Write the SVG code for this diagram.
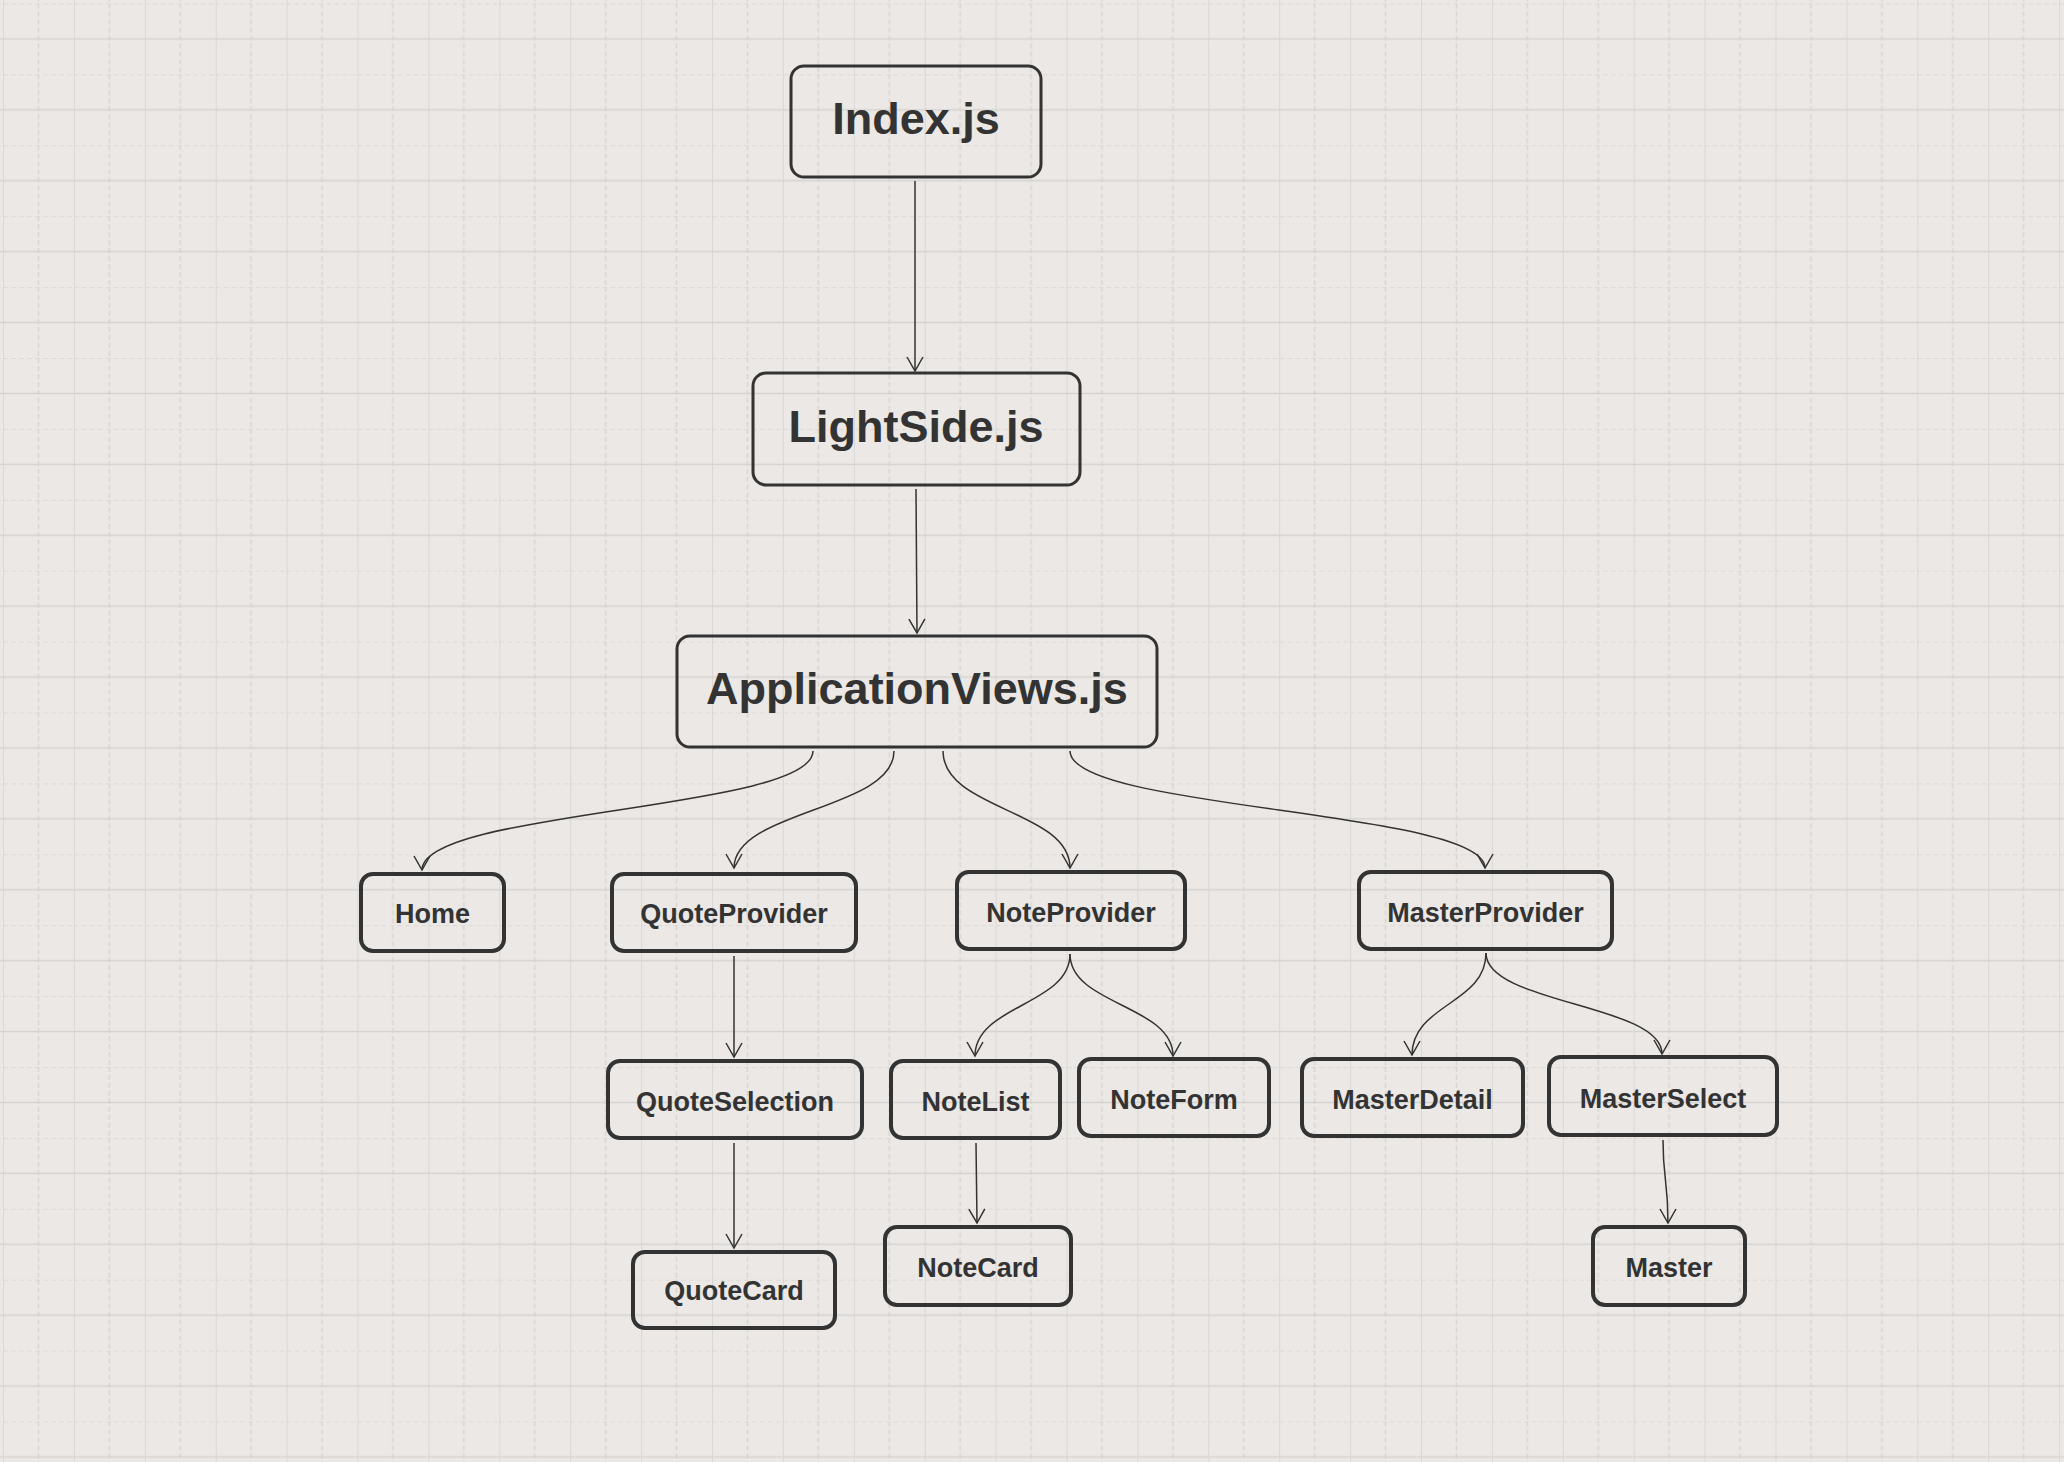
<svg xmlns="http://www.w3.org/2000/svg" width="2064" height="1462" viewBox="0 0 2064 1462">
<style>
.box{fill:none;stroke:#333;stroke-width:4}
.big{stroke-width:3}
.t{font-family:"Liberation Sans",Arial,sans-serif;font-weight:bold;fill:#333;text-anchor:middle;font-size:27px}
.tb{font-size:45px}
.c{fill:none;stroke:#333;stroke-width:1.5}
</style>
<defs>
<pattern id="grid" patternUnits="userSpaceOnUse" x="3" y="3.5" width="70.9" height="70.9">
<line x1="0" y1="0" x2="70.9" y2="0" stroke="#d8d5d2" stroke-width="1.5" stroke-dasharray="5 3"/>
<line x1="35.45" y1="0" x2="35.45" y2="70.9" stroke="#d8d5d2" stroke-width="1.5" stroke-dasharray="5 3"/>
<line x1="0" y1="35.5" x2="70.9" y2="35.5" stroke="#d5d3d1" stroke-width="1.5"/>
<line x1="0" y1="0" x2="0" y2="70.9" stroke="#d5d3d1" stroke-width="1.5"/>
</pattern>
<marker id="arr" markerUnits="userSpaceOnUse" markerWidth="20" markerHeight="20" refX="0" refY="0" orient="auto" overflow="visible">
<path d="M-14,-8 L0,0 L-14,8" fill="none" stroke="#333" stroke-width="1.5"/>
</marker>
</defs>
<rect width="2064" height="1462" fill="#ebe8e5"/>
<rect width="2064" height="1462" fill="url(#grid)"/>

<g id="connectors">
<path class="c" marker-end="url(#arr)" d="M915,181 L915,371"/>
<path class="c" marker-end="url(#arr)" d="M916,489 L917,633"/>
<path class="c" marker-end="url(#arr)" d="M813,751 C813,810 422,810 422,870"/>
<path class="c" marker-end="url(#arr)" d="M894,751 C894,810 734,810 734,868"/>
<path class="c" marker-end="url(#arr)" d="M943,751 C943,810 1070,810 1070,868"/>
<path class="c" marker-end="url(#arr)" d="M1070,751 C1070,810 1485,810 1485,868"/>
<path class="c" marker-end="url(#arr)" d="M734,956 L734,1057"/>
<path class="c" marker-end="url(#arr)" d="M734,1143 L734,1248"/>
<path class="c" marker-end="url(#arr)" d="M1070,954 C1070,1005 975,1005 975,1056"/>
<path class="c" marker-end="url(#arr)" d="M1070,954 C1070,1005 1173,1005 1173,1056"/>
<path class="c" marker-end="url(#arr)" d="M976,1143 L977,1223"/>
<path class="c" marker-end="url(#arr)" d="M1486,953 C1486,1004 1412,1004 1412,1055"/>
<path class="c" marker-end="url(#arr)" d="M1486,953 C1486,1004 1662,1004 1662,1054"/>
<path class="c" marker-end="url(#arr)" d="M1663,1140 C1663,1180 1668,1180 1668,1223"/>
</g>

<g id="index"><rect class="box big" x="791" y="66" width="250" height="111" rx="13"/><text class="t tb" x="916" y="134">Index.js</text></g>
<g id="lightside"><rect class="box big" x="753" y="373" width="327" height="112" rx="13"/><text class="t tb" x="916" y="442">LightSide.js</text></g>
<g id="appviews"><rect class="box big" x="677" y="636" width="480" height="111" rx="13"/><text class="t tb" x="917" y="704">ApplicationViews.js</text></g>

<g id="home"><rect class="box" x="361" y="874" width="143" height="77" rx="12"/><text class="t" x="432.5" y="923">Home</text></g>
<g id="quoteprovider"><rect class="box" x="612" y="874" width="244" height="77" rx="12"/><text class="t" x="734" y="923">QuoteProvider</text></g>
<g id="noteprovider"><rect class="box" x="957" y="872" width="228" height="77" rx="12"/><text class="t" x="1071" y="922">NoteProvider</text></g>
<g id="masterprovider"><rect class="box" x="1359" y="872" width="253" height="77" rx="12"/><text class="t" x="1485.5" y="922">MasterProvider</text></g>

<g id="quoteselection"><rect class="box" x="608" y="1061" width="254" height="77" rx="12"/><text class="t" x="735" y="1111">QuoteSelection</text></g>
<g id="notelist"><rect class="box" x="891" y="1061" width="169" height="77" rx="12"/><text class="t" x="975.5" y="1111">NoteList</text></g>
<g id="noteform"><rect class="box" x="1079" y="1059" width="190" height="77" rx="12"/><text class="t" x="1174" y="1109">NoteForm</text></g>
<g id="masterdetail"><rect class="box" x="1302" y="1059" width="221" height="77" rx="12"/><text class="t" x="1412.5" y="1109">MasterDetail</text></g>
<g id="masterselect"><rect class="box" x="1549" y="1057" width="228" height="78" rx="12"/><text class="t" x="1663" y="1108">MasterSelect</text></g>

<g id="quotecard"><rect class="box" x="633" y="1252" width="202" height="76" rx="12"/><text class="t" x="734" y="1300">QuoteCard</text></g>
<g id="notecard"><rect class="box" x="885" y="1227" width="186" height="78" rx="12"/><text class="t" x="978" y="1277">NoteCard</text></g>
<g id="master"><rect class="box" x="1593" y="1227" width="152" height="78" rx="12"/><text class="t" x="1669" y="1277">Master</text></g>
</svg>
